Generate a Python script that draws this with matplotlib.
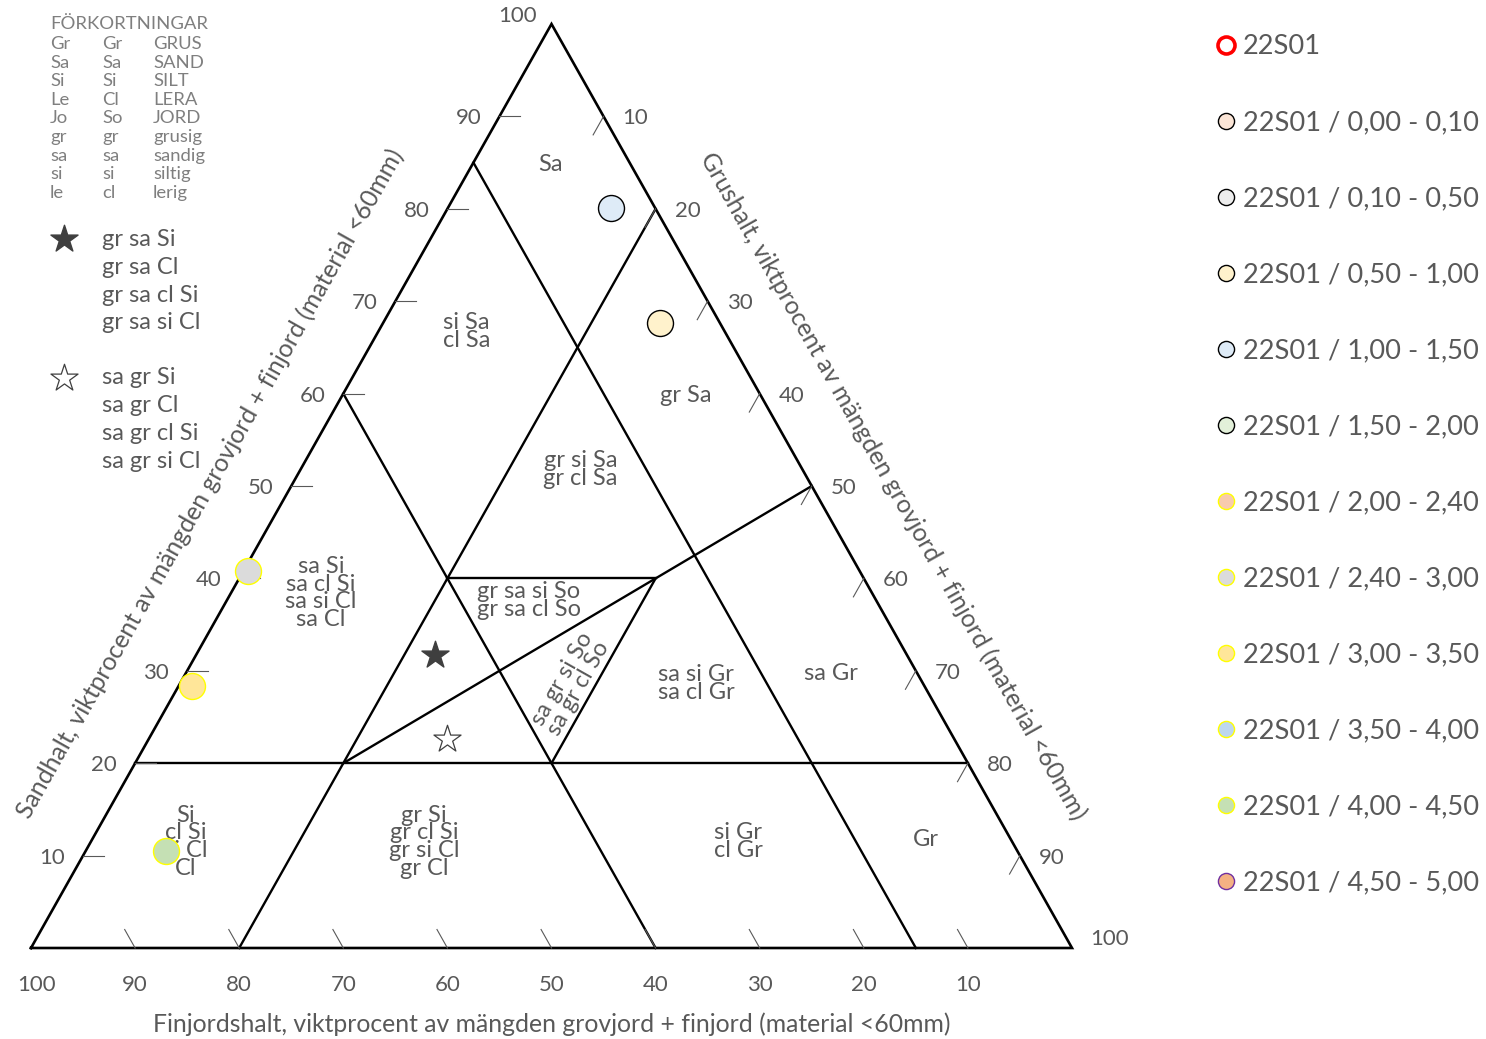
import numpy as np
import matplotlib
matplotlib.use("Agg")
import matplotlib.pyplot as plt

plt.rcParams['font.family'] = ['Lato', 'DejaVu Sans']

W, H = 1486, 1039
GREY = "#595959"

# points are given as (sandhalt, grushalt); finjord = 100 - sand - grus
outline = [(0, 0), (0, 100), (100, 0), (0, 0)]
boundaries = [
    [(85, 0), (0, 85)],     # finjord 15
    [(60, 0), (0, 60)],     # finjord 40
    [(80, 20), (0, 20)],    # grus 20
    [(50, 50), (20, 20)],   # sand = grus
    [(40, 20), (40, 40)],   # sand 40
    [(40, 40), (20, 40)],   # grus 40
    [(20, 0), (20, 80)],    # sand 20
]

region_text = ["Sa", "si Sa\ncl Sa", "gr Sa", "gr si Sa\ngr cl Sa",
               "sa Si\nsa cl Si\nsa si Cl\nsa Cl", "gr sa si So\ngr sa cl So",
               "sa gr si So\nsa gr cl So", "sa si Gr\nsa cl Gr", "sa Gr",
               "Si\ncl Si\nsi Cl\nCl", "gr Si\ngr cl Si\ngr si Cl\ngr Cl",
               "si Gr\ncl Gr", "Gr"]
region_sand = [84.8, 66.7, 59.8, 51.8, 38.4, 37.6, 28.6, 28.6, 29.7, 11.5, 11.5, 11.5, 11.7]
region_grus = [7.5, 8.5, 33, 26.9, 8.65, 29, 37.5, 49.6, 62, 9.1, 32, 62.2, 80.1]

star_sand = [31.7, 22.6]
star_grus = [23.0, 28.7]

ticks = [10, 20, 30, 40, 50, 60, 70, 80, 90]
tick_labels = [10, 20, 30, 40, 50, 60, 70, 80, 90, 100]

sample_labels = ["22S01", "22S01 / 0,00 - 0,10", "22S01 / 0,10 - 0,50",
                 "22S01 / 0,50 - 1,00", "22S01 / 1,00 - 1,50", "22S01 / 1,50 - 2,00",
                 "22S01 / 2,00 - 2,40", "22S01 / 2,40 - 3,00", "22S01 / 3,00 - 3,50",
                 "22S01 / 3,50 - 4,00", "22S01 / 4,00 - 4,50", "22S01 / 4,50 - 5,00"]
sample_face = ["white", "#FBE5D6", "#EDEDED", "#FFF2CC", "#DEEBF7", "#E2F0D9",
               "#F8CBAD", "#DBDBDB", "#FFE699", "#BDD7EE", "#C5E0B4", "#F4B183"]
sample_edge = ["red", "black", "black", "black", "black", "black",
               "yellow", "yellow", "yellow", "yellow", "yellow", "#7030A0"]
sample_sand = [None, None, None, 67.6, 80.1, None, None, 40.8, 28.4, None, 10.5, None]
sample_grus = [None, None, None, 26.6, 15.7, None, None, 0.4, 1.3, None, 7.7, None]

abbr_sv = ["Gr", "Sa", "Si", "Le", "Jo", "gr", "sa", "si", "le"]
abbr_en = ["Gr", "Sa", "Si", "Cl", "So", "gr", "sa", "si", "cl"]
abbr_word = ["GRUS", "SAND", "SILT", "LERA", "JORD", "grusig", "sandig", "siltig", "lerig"]
star_full_text = ["gr sa Si", "gr sa Cl", "gr sa cl Si", "gr sa si Cl"]
star_open_text = ["sa gr Si", "sa gr Cl", "sa gr cl Si", "sa gr si Cl"]


def tern(sand, grus):
    sand = np.asarray(sand, dtype=float)
    grus = np.asarray(grus, dtype=float)
    return grus + sand / 2, sand


def fx(px):
    return px / W


def fy(py):
    return 1 - py / H


fig = plt.figure(figsize=(W / 100, H / 100), dpi=100)
ax = fig.add_axes([0, 0, 1, 1])
ax.set_xlim(-31 / 10.41, (W - 31) / 10.41)
ax.set_ylim(-(H - 948) / 9.24, 948 / 9.24)
ax.axis("off")

# triangle and class boundaries
s, g = zip(*outline)
ax.plot(*tern(s, g), color="black", lw=1.9, solid_joinstyle="miter")
for seg in boundaries:
    s, g = zip(*seg)
    ax.plot(*tern(s, g), color="black", lw=1.7)

# screen angle of left edge
p0 = ax.transData.transform(tern(0, 0))
p1 = ax.transData.transform(tern(100, 0))
ang = np.degrees(np.arctan2(p1[1] - p0[1], p1[0] - p0[0]))

# ticks
tl = 2.0
for t in ticks:
    ax.plot(*tern([t, t], [0, tl]), color=GREY, lw=0.8)
    ax.plot(*tern([100 - t, 100 - t - tl], [t, t]), color=GREY, lw=0.8)
    gb = 100 - t
    ax.plot(*tern([0, tl], [gb, gb - tl]), color=GREY, lw=0.8)

pt = 0.72
tfs = 16
for t in tick_labels:
    off = (-34, 8) if t == 100 else (-31, -2)
    ax.annotate(str(t), xy=tern(t, 0), xytext=(off[0] * pt, off[1] * pt),
                textcoords="offset points", ha="center", va="center",
                fontsize=tfs, color=GREY)
    off = (38, 9) if t == 100 else (32, -2)
    ax.annotate(str(t), xy=tern(100 - t, t), xytext=(off[0] * pt, off[1] * pt),
                textcoords="offset points", ha="center", va="center",
                fontsize=tfs, color=GREY)
    off = (6, -37) if t == 100 else (0, -37)
    ax.annotate(str(t), xy=tern(0, 100 - t), xytext=(off[0] * pt, off[1] * pt),
                textcoords="offset points", ha="center", va="center",
                fontsize=tfs, color=GREY)

# axis titles
afs = 17.8
ax.annotate("Sandhalt, viktprocent av mängden grovjord + finjord (material <60mm)",
            xy=tern(50, 0), xytext=(-81 * pt, 2 * pt), textcoords="offset points",
            rotation=ang, rotation_mode="anchor", ha="center", va="center",
            fontsize=afs, color=GREY)
ax.annotate("Grushalt, viktprocent av mängden grovjord + finjord (material <60mm)",
            xy=tern(50, 50), xytext=(81 * pt, 0), textcoords="offset points",
            rotation=-ang, rotation_mode="anchor", ha="center", va="center",
            fontsize=afs, color=GREY)
ax.annotate("Finjordshalt, viktprocent av mängden grovjord + finjord (material <60mm)",
            xy=tern(0, 50), xytext=(0, -76 * pt), textcoords="offset points",
            ha="center", va="center", fontsize=afs, color=GREY)

# class labels
for i, txt in enumerate(region_text):
    rot = ang if txt.startswith("sa gr") else 0
    ax.text(*tern(region_sand[i], region_grus[i]), txt, ha="center", va="center",
            multialignment="center", rotation=rot, rotation_mode="anchor",
            fontsize=17, color=GREY, linespacing=0.8)

# star symbols in diagram
ax.scatter(*tern(star_sand[0], star_grus[0]), marker="*", s=420, color="#3f3f3f",
           edgecolor="#3f3f3f", zorder=4)
ax.scatter(*tern(star_sand[1], star_grus[1]), marker="*", s=420, facecolor="white",
           edgecolor="#3f3f3f", lw=0.9, zorder=4)

# samples
for i in range(len(sample_labels)):
    if sample_sand[i] is not None:
        ax.scatter(*tern(sample_sand[i], sample_grus[i]), s=350,
                   facecolor=sample_face[i], edgecolor=sample_edge[i],
                   lw=1.0, zorder=5)

# legend on the right
for i, lab in enumerate(sample_labels):
    yy = fy(45 + 76 * i)
    if i == 0:
        ax.scatter(fx(1226), yy, s=150, facecolor="white", edgecolor="red", lw=2.6,
                   transform=fig.transFigure, clip_on=False)
    else:
        ax.scatter(fx(1226), yy, s=135, facecolor=sample_face[i],
                   edgecolor=sample_edge[i], lw=1.0,
                   transform=fig.transFigure, clip_on=False)
    fig.text(fx(1243), fy(47 + 76 * i), lab, ha="left", va="center",
             fontsize=19.6, color=GREY)

# abbreviation table
afc = "#7f7f7f"
abfs = 13.3
fig.text(fx(50), fy(24), "FÖRKORTNINGAR", ha="left", va="center",
         fontsize=abfs, color=afc)
for i in range(len(abbr_sv)):
    yy = fy(44 + 18.6 * i)
    fig.text(fx(50), yy, abbr_sv[i], ha="left", va="center", fontsize=abfs, color=afc)
    fig.text(fx(102), yy, abbr_en[i], ha="left", va="center", fontsize=abfs, color=afc)
    fig.text(fx(153), yy, abbr_word[i], ha="left", va="center", fontsize=abfs, color=afc)

# star legend
ax.scatter(fx(64), fy(239), marker="*", s=420, color="#3f3f3f",
           transform=fig.transFigure, clip_on=False)
ax.scatter(fx(64), fy(378), marker="*", s=420, facecolor="white", edgecolor="#3f3f3f",
           lw=0.9, transform=fig.transFigure, clip_on=False)
for j in range(4):
    fig.text(fx(102), fy(240 + 27.5 * j), star_full_text[j], ha="left", va="center",
             fontsize=17, color=GREY)
    fig.text(fx(102), fy(378 + 27.7 * j), star_open_text[j], ha="left", va="center",
             fontsize=17, color=GREY)

fig.savefig("out.png", dpi=100, facecolor="white")
